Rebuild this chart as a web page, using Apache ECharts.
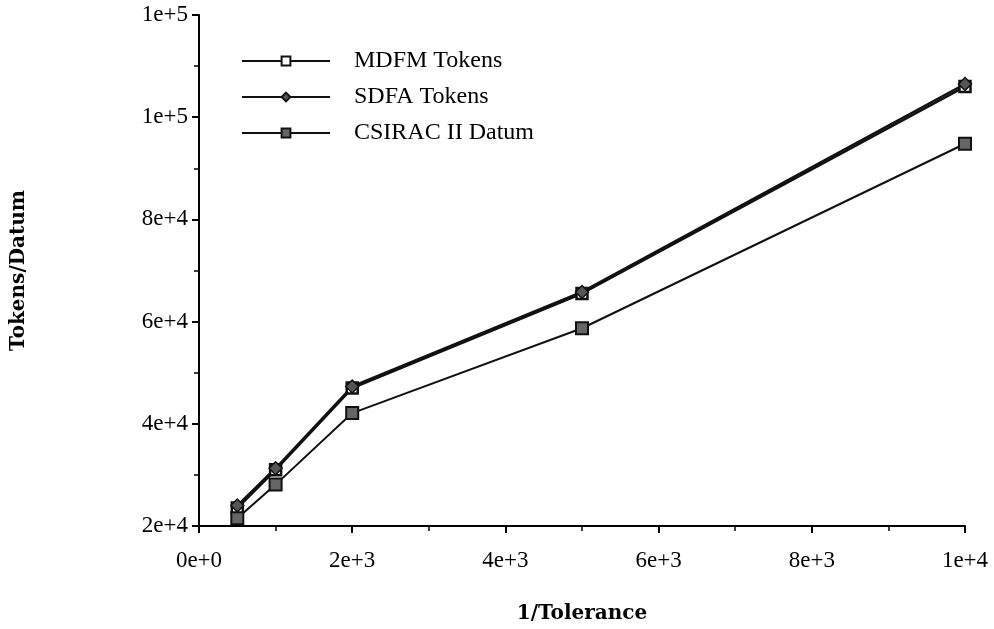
<!DOCTYPE html>
<html>
<head>
<meta charset="utf-8">
<script src="https://cdn.jsdelivr.net/npm/echarts@6/dist/echarts.min.js"></script>
<style>
  html, body { margin: 0; padding: 0; background: #fff; }
  #chart { width: 994px; height: 629px; }
</style>
</head>
<body>
<div id="chart"></div>
<script>
// 数据
const xValues = [500, 1000, 2000, 5000, 10000];
const mdfmTokens = [23500, 31000, 47000, 65500, 106000];
const sdfaTokens = [24000, 31300, 47300, 65800, 106500];
const csiracDatum = [21500, 28100, 42100, 58700, 94800];
const seriesNames = ['MDFM Tokens', 'SDFA Tokens', 'CSIRAC II Datum'];

function pairs(ys) {
    return xValues.map(function(x, i) { return [x, ys[i]]; });
}

// 标签格式: 一位有效数字的科学计数法
function sci(v) {
    return v.toExponential(0);
}

document.addEventListener('DOMContentLoaded', function() {
    const myChart = echarts.init(document.getElementById('chart'));
    const serif = 'Liberation Serif';
    const nameFont = 'DejaVu Serif';

    const option = {
        animation: false,
        textStyle: { fontFamily: serif, color: '#000' },
        grid: {
            left: 199,
            right: 29,
            top: 15,
            bottom: 101
        },
        legend: {
            orient: 'vertical',
            left: 241,
            top: 49,
            padding: 0,
            itemWidth: 88,
            itemHeight: 11,
            itemGap: 12,
            data: seriesNames,
            textStyle: {
                fontFamily: serif,
                fontSize: 24,
                color: '#000',
                padding: [0, 0, 0, 19]
            }
        },
        xAxis: {
            type: 'value',
            min: 0,
            max: 10000,
            interval: 2000,
            name: '1/Tolerance',
            nameLocation: 'middle',
            nameGap: 78,
            nameTextStyle: {
                fontFamily: nameFont,
                fontWeight: 'bold',
                fontSize: 20,
                color: '#000'
            },
            axisLine: { lineStyle: { color: '#000', width: 2 } },
            axisTick: { inside: false, length: 7, lineStyle: { color: '#000', width: 2 } },
            minorTick: { show: true, splitNumber: 2, length: 5, lineStyle: { color: '#000', width: 1.5 } },
            splitLine: { show: false },
            axisLabel: {
                formatter: sci,
                fontFamily: serif,
                fontSize: 23,
                color: '#000',
                margin: 23
            }
        },
        yAxis: {
            type: 'value',
            min: 20000,
            max: 120000,
            interval: 20000,
            name: 'Tokens/Datum',
            nameLocation: 'middle',
            nameGap: 170,
            nameRotate: 90,
            nameTextStyle: {
                fontFamily: nameFont,
                fontWeight: 'bold',
                fontSize: 20,
                color: '#000'
            },
            axisLine: { show: true, lineStyle: { color: '#000', width: 2 } },
            axisTick: { show: true, inside: false, length: 7, lineStyle: { color: '#000', width: 2 } },
            minorTick: { show: true, splitNumber: 2, length: 5, lineStyle: { color: '#000', width: 1.5 } },
            splitLine: { show: false },
            axisLabel: {
                formatter: sci,
                fontFamily: serif,
                fontSize: 23,
                color: '#000',
                margin: 11
            }
        },
        series: [
            {
                name: seriesNames[0],
                type: 'line',
                data: pairs(mdfmTokens),
                symbol: 'rect',
                symbolSize: 11,
                lineStyle: { color: '#111', width: 2.5 },
                itemStyle: { color: '#fff', borderColor: '#111', borderWidth: 2.5 }
            },
            {
                name: seriesNames[1],
                type: 'line',
                data: pairs(sdfaTokens),
                symbol: 'diamond',
                symbolSize: 13,
                lineStyle: { color: '#111', width: 2.5 },
                itemStyle: { color: '#555', borderColor: '#111', borderWidth: 1.5 }
            },
            {
                name: seriesNames[2],
                type: 'line',
                data: pairs(csiracDatum),
                symbol: 'rect',
                symbolSize: 12,
                lineStyle: { color: '#111', width: 2 },
                itemStyle: { color: '#666', borderColor: '#111', borderWidth: 2 }
            }
        ]
    };

    myChart.setOption(option);
});
</script>
</body>
</html>
